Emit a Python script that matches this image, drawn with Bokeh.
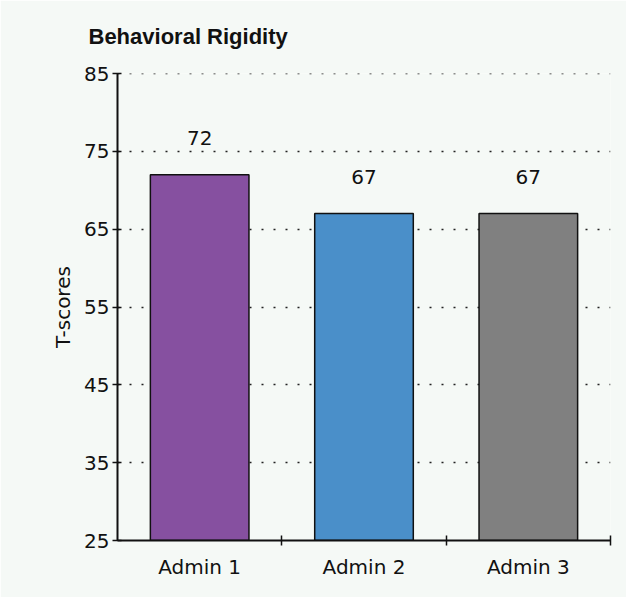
from bokeh.plotting import figure
from bokeh.models import ColumnDataSource, FixedTicker, LabelSet, Range1d, Span
from bokeh.core.properties import value
from bokeh.embed import file_html
from bokeh.resources import INLINE

title_text = "Behavioral Rigidity"
categories = ["Admin 1", "Admin 2", "Admin 3"]
scores = [72, 67, 67]
bar_colors = ["#8650A0", "#4A8FC9", "#808080"]
y_ticks = [25, 35, 45, 55, 65, 75, 85]

FONT = "DejaVu Sans"
TFONT = "Liberation Sans"
BG = "#F5F9F6"
INK = "#111111"

xs = [i + 0.5 for i in range(len(categories))]
source = ColumnDataSource(data=dict(x=xs, top=scores, color=bar_colors,
                                    label=[str(s) for s in scores]))

p = figure(width=626, height=597, output_backend="svg", toolbar_location=None,
           x_range=Range1d(0, len(categories)), y_range=Range1d(y_ticks[0], y_ticks[-1]),
           min_border_left=117, min_border_right=16, min_border_top=72,
           min_border_bottom=57)
p.background_fill_color = BG
p.border_fill_color = BG
p.outline_line_color = None

p.vbar(x="x", top="top", bottom=y_ticks[0], width=0.6, source=source,
       fill_color="color", line_color=INK, line_width=1.5)

labels = LabelSet(x="x", y="top", text="label", source=source, y_offset=30,
                  text_align="center", text_baseline="bottom",
                  text_font=value(FONT), text_font_size="20px", text_color=INK)
p.add_layout(labels)

# top gridline (range edge is skipped by the grid)
p.add_layout(Span(location=y_ticks[-1], dimension="width", line_color="#222222",
                  line_width=1.5, line_dash="2 10", level="underlay"))

# title
p.title.text = title_text
p.title.text_font = TFONT
p.title.text_font_size = "22px"
p.title.text_font_style = "bold"
p.title.text_color = INK
p.title.align = "left"
p.title.vertical_align = "top"
p.title.offset = -29
p.title.standoff = 46

# y axis
ya = p.yaxis[0]
ya.ticker = FixedTicker(ticks=y_ticks)
ya.axis_label = "T-scores"
ya.axis_label_text_font = FONT
ya.axis_label_text_font_size = "20px"
ya.axis_label_text_font_style = "normal"
ya.axis_label_text_color = INK
ya.axis_label_standoff = 6
ya.major_label_text_font = FONT
ya.major_label_text_font_size = "20px"
ya.major_label_text_color = INK
ya.major_label_standoff = 3
ya.major_tick_in = 4
ya.major_tick_out = 5
ya.minor_tick_line_color = None
ya.axis_line_width = 2
ya.axis_line_color = INK
ya.major_tick_line_color = INK
ya.major_tick_line_width = 1.5

# x axis: labels at centres, ticks at category boundaries
xa = p.xaxis[0]
xa.ticker = FixedTicker(ticks=xs, minor_ticks=list(range(1, len(categories) + 1)))
xa.major_label_overrides = {x: c for x, c in zip(xs, categories)}
xa.major_label_text_font = FONT
xa.major_label_text_font_size = "20px"
xa.major_label_text_color = INK
xa.major_label_standoff = 8
xa.major_tick_line_color = None
xa.minor_tick_in = 5
xa.minor_tick_out = 5
xa.minor_tick_line_color = INK
xa.minor_tick_line_width = 1.5
xa.axis_line_width = 2
xa.axis_line_color = INK

p.xgrid.grid_line_color = None
p.ygrid.ticker = FixedTicker(ticks=y_ticks)
p.ygrid.grid_line_color = "#222222"
p.ygrid.grid_line_width = 1.5
p.ygrid.grid_line_dash = "2 10"

open("out.html", "w").write(file_html(p, INLINE))
